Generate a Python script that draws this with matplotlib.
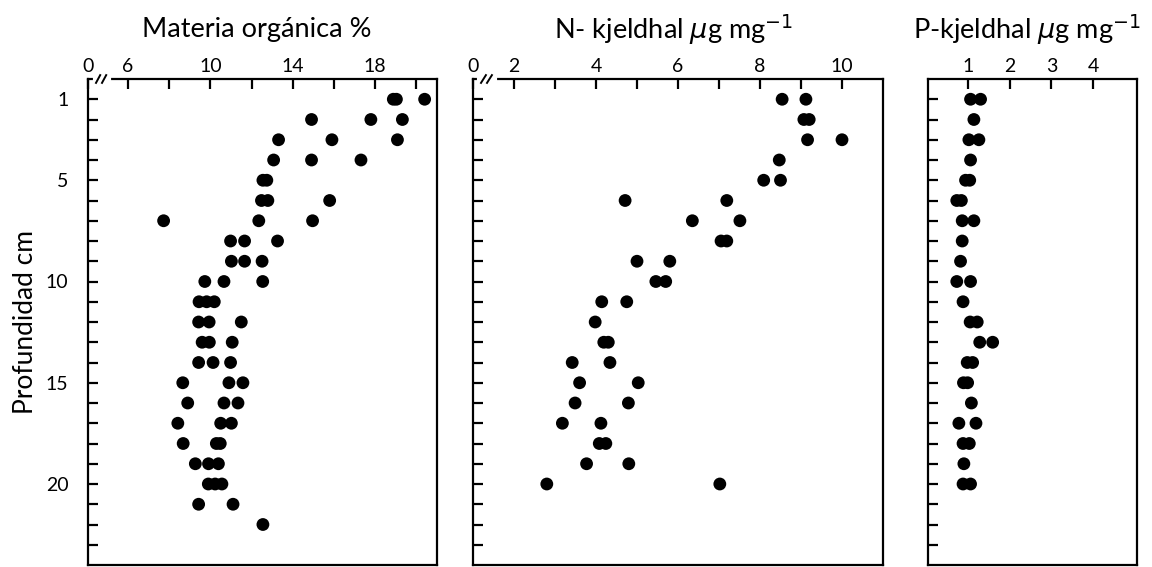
import numpy as np
from matplotlib import pyplot as plt

# depth (cm) and values
mo_depth = [1, 1, 1, 2, 2, 2, 3, 3, 3, 4, 4, 4, 5, 5, 6, 6, 6, 7, 7, 7,
            8, 8, 8, 9, 9, 9, 10, 10, 10, 11, 11, 11, 12, 12, 12, 13, 13, 13,
            14, 14, 14, 15, 15, 15, 16, 16, 16, 17, 17, 17, 18, 18, 18,
            19, 19, 19, 20, 20, 20, 21, 21, 22]
mo_val = [18.88, 19.03, 20.4, 14.91, 17.79, 19.32, 13.31, 15.9, 19.08,
          13.07, 14.91, 17.31, 12.55, 12.74, 12.48, 12.79, 15.79, 7.73, 12.35, 14.96,
          10.98, 11.66, 13.26, 11.02, 11.66, 12.51, 9.73, 10.66, 12.54,
          9.45, 9.82, 10.19, 9.43, 9.94, 11.5, 9.6, 9.95, 11.06,
          9.43, 10.13, 10.98, 8.66, 10.9, 11.58, 8.9, 10.66, 11.34,
          8.42, 10.5, 11.02, 8.68, 10.29, 10.48, 9.27, 9.91, 10.39,
          9.9, 10.23, 10.56, 9.43, 11.1, 12.55]

n_depth = [1, 1, 2, 2, 3, 3, 4, 5, 5, 6, 6, 7, 7, 8, 8, 9, 9, 10, 10,
           11, 11, 12, 13, 13, 14, 14, 15, 15, 16, 16, 17, 17, 18, 18,
           19, 19, 20, 20]
n_val = [8.54, 9.12, 9.07, 9.2, 9.16, 10.0, 8.47, 8.09, 8.5, 4.71, 7.19,
         6.35, 7.51, 7.05, 7.19, 5.0, 5.8, 5.46, 5.7, 4.14, 4.75, 3.98,
         4.19, 4.3, 3.42, 4.34, 3.6, 5.03, 3.49, 4.79, 3.18, 4.12,
         4.08, 4.24, 3.77, 4.8, 2.8, 7.02]

p_depth = [1, 1, 2, 3, 3, 4, 5, 5, 6, 6, 7, 7, 8, 9, 10, 10, 11, 12, 12,
           13, 13, 14, 14, 15, 15, 16, 17, 17, 18, 18, 19, 20, 20]
p_val = [1.06, 1.30, 1.14, 1.02, 1.26, 1.06, 0.94, 1.04, 0.73, 0.84,
         0.86, 1.14, 0.86, 0.82, 0.73, 1.06, 0.88, 1.05, 1.22, 1.28, 1.59,
         0.98, 1.11, 0.89, 0.99, 1.08, 0.78, 1.19, 0.88, 1.03, 0.90, 0.88, 1.06]

titles = ['Materia orgánica %', 'N- kjeldhal $\\mu$g mg$^{-1}$', 'P-kjeldhal $\\mu$g mg$^{-1}$']
xlims = [(4.06, 21.0), (1.0, 11.0), (0.04, 5.05)]
xticks = [[4.06, 6, 8, 10, 12, 14, 16, 18, 20],
          [1.0, 2, 3, 4, 5, 6, 7, 8, 9, 10],
          [1, 2, 3, 4]]
xticklabels = [['0', '6', '', '10', '', '14', '', '18', ''],
               ['0', '2', '', '4', '', '6', '', '8', '', '10'],
               ['1', '2', '3', '4']]
yticks = list(range(1, 24))
yticklabels = [str(d) if d in (1, 5, 10, 15, 20) else '' for d in yticks]

plt.rcParams['font.family'] = ['Lato', 'DejaVu Sans']

W, H = 1152, 567
fig = plt.figure(figsize=(W / 100, H / 100), dpi=100)

# panel boxes in pixels: left, right, top, bottom
boxes = [(88, 437, 79, 565), (473, 883, 79, 565), (928, 1137, 79, 565)]
data = [(mo_val, mo_depth), (n_val, n_depth), (p_val, p_depth)]
title_x = [257, 674, 1027]

for i, (l, r, t, b) in enumerate(boxes):
    ax = fig.add_axes([l / W, (H - b) / H, (r - l) / W, (b - t) / H])
    x, y = data[i]
    ax.scatter(x, y, s=85, color='black', edgecolors='none', clip_on=False, zorder=3)
    ax.set_xlim(*xlims[i])
    ax.set_ylim(24, 0)
    ax.xaxis.tick_top()
    ax.set_xticks(xticks[i])
    ax.set_xticklabels(xticklabels[i], fontsize=14)
    ax.set_yticks(yticks)
    if i == 0:
        ax.set_yticklabels(yticklabels, fontsize=14)
        ax.set_ylabel('Profundidad cm', fontsize=19, labelpad=6)
    else:
        ax.set_yticklabels([])
    ax.tick_params(direction='in', length=7, width=1.6, pad=3)
    ax.tick_params(axis='y', pad=14)
    for sp in ax.spines.values():
        sp.set_linewidth(1.6)
    ax.text(title_x[i] / W, 1 - 30 / H, titles[i], transform=fig.transFigure,
            ha='center', va='center', fontsize=19.5)
    if i < 2:
        # axis break marks on top spine
        x0 = 8 / (r - l)
        dx = 6 / (r - l)
        ax.plot([x0 - 0.004, x0 + 0.02 + dx], [1, 1], color='white', lw=3,
                transform=ax.transAxes, clip_on=False, zorder=4)
        for k in range(2):
            xs = x0 + k * dx
            ax.plot([xs, xs + 0.012], [1 - 0.008, 1 + 0.008], color='black', lw=1.4,
                    transform=ax.transAxes, clip_on=False, zorder=5)

fig.savefig('out.png', dpi=100)
